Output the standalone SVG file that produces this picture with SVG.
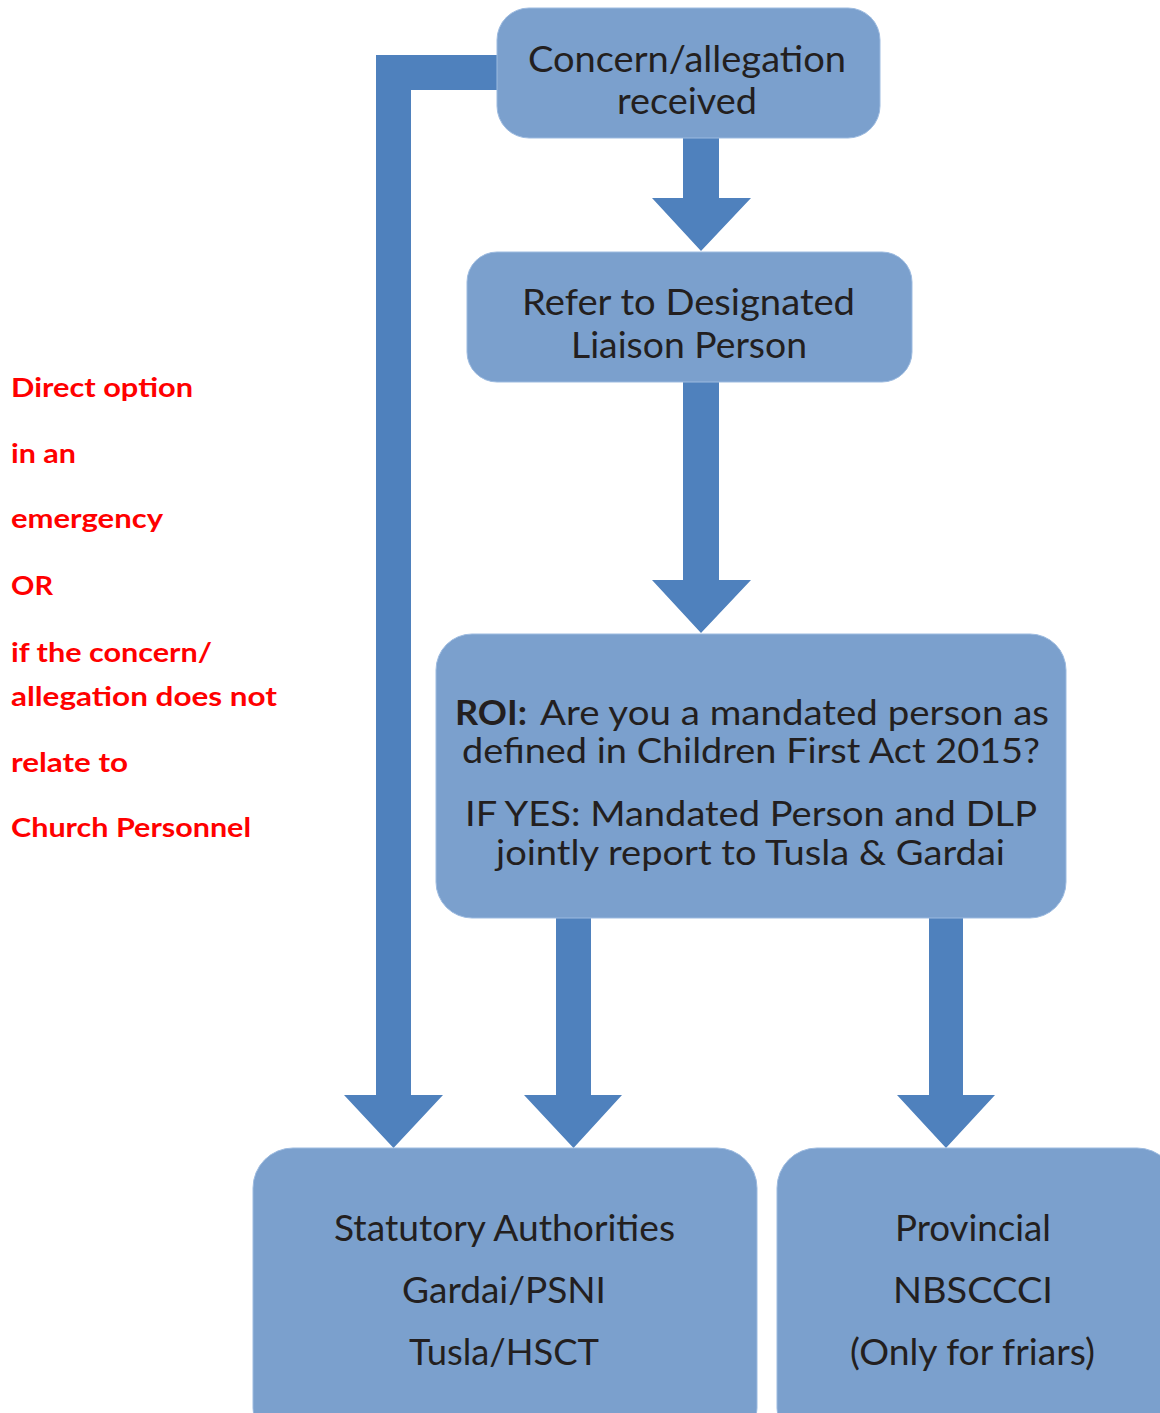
<svg xmlns="http://www.w3.org/2000/svg" width="1160" height="1413" viewBox="0 0 1160 1413">
<style>
.box{fill:#7ba0cd;stroke:#9dbbe0;stroke-width:1}
.arr{fill:#4f81bd}
.t{font-family:Lato,"Liberation Sans",sans-serif;font-size:36px;fill:#231f20}
.m{font-size:35px}
.r{font-family:Lato,"Liberation Sans",sans-serif;font-weight:bold;font-size:26px;fill:#ff0000}
</style>
<rect width="1160" height="1413" fill="#ffffff"/>
<g id="connectors">
<path class="arr" d="M497,55 H376 V1095 H344 L393.5,1148 L443,1095 H411 V90 H497 Z"/>
<path class="arr" d="M683,138 H719 V198 H751 L701,251 L652,198 H683 Z"/>
<path class="arr" d="M683,382 H719 V580 H751 L701,633 L652,580 H683 Z"/>
<path class="arr" d="M556,918 H591 V1095 H622 L573.5,1148 L524,1095 H556 Z"/>
<path class="arr" d="M929,918 H963 V1095 H995 L946,1148 L897,1095 H929 Z"/>
</g>
<g id="concern">
<rect class="box" x="497" y="8" width="383" height="130" rx="32"/>
<text class="t" x="528" y="72" textLength="318" lengthAdjust="spacingAndGlyphs">Concern/allegation</text>
<text class="t" x="617" y="114" textLength="140" lengthAdjust="spacingAndGlyphs">received</text>
</g>
<g id="dlp">
<rect class="box" x="467" y="252" width="445" height="130" rx="30"/>
<text class="t" x="522" y="315" textLength="333" lengthAdjust="spacingAndGlyphs">Refer to Designated</text>
<text class="t" x="571" y="358" textLength="236" lengthAdjust="spacingAndGlyphs">Liaison Person</text>
</g>
<g id="roi">
<rect class="box" x="436" y="634" width="630" height="284" rx="36"/>
<text class="t m" x="455" y="725" font-weight="bold" textLength="72" lengthAdjust="spacingAndGlyphs">ROI:</text>
<text class="t m" x="540" y="725" textLength="509" lengthAdjust="spacingAndGlyphs">Are you a mandated person as</text>
<text class="t m" x="462" y="763" textLength="578" lengthAdjust="spacingAndGlyphs">defined in Children First Act 2015?</text>
<text class="t m" x="465" y="826" textLength="572" lengthAdjust="spacingAndGlyphs">IF YES: Mandated Person and DLP</text>
<text class="t m" x="496" y="865" textLength="509" lengthAdjust="spacingAndGlyphs">jointly report to Tusla &amp; Gardai</text>
</g>
<g id="statutory">
<rect class="box" x="253" y="1148" width="504" height="300" rx="40"/>
<text class="t" x="334" y="1241" textLength="341" lengthAdjust="spacingAndGlyphs">Statutory Authorities</text>
<text class="t" x="402" y="1303" textLength="204" lengthAdjust="spacingAndGlyphs">Gardai/PSNI</text>
<text class="t" x="409" y="1365" textLength="190" lengthAdjust="spacingAndGlyphs">Tusla/HSCT</text>
</g>
<g id="provincial">
<rect class="box" x="777" y="1148" width="400" height="300" rx="40"/>
<text class="t" x="895" y="1241" textLength="156" lengthAdjust="spacingAndGlyphs">Provincial</text>
<text class="t" x="893" y="1303" textLength="160" lengthAdjust="spacingAndGlyphs">NBSCCCI</text>
<text class="t" x="850" y="1365" textLength="245" lengthAdjust="spacingAndGlyphs">(Only for friars)</text>
</g>
<g id="note">
<text class="r" x="11" y="397" textLength="182" lengthAdjust="spacingAndGlyphs">Direct option</text>
<text class="r" x="11" y="463" textLength="65" lengthAdjust="spacingAndGlyphs">in an</text>
<text class="r" x="11" y="528" textLength="152" lengthAdjust="spacingAndGlyphs">emergency</text>
<text class="r" x="11" y="595" textLength="42" lengthAdjust="spacingAndGlyphs">OR</text>
<text class="r" x="11" y="662" textLength="201" lengthAdjust="spacingAndGlyphs">if the concern/</text>
<text class="r" x="11" y="706" textLength="266" lengthAdjust="spacingAndGlyphs">allegation does not</text>
<text class="r" x="11" y="772" textLength="117" lengthAdjust="spacingAndGlyphs">relate to</text>
<text class="r" x="11" y="837" textLength="240" lengthAdjust="spacingAndGlyphs">Church Personnel</text>
</g>
</svg>
